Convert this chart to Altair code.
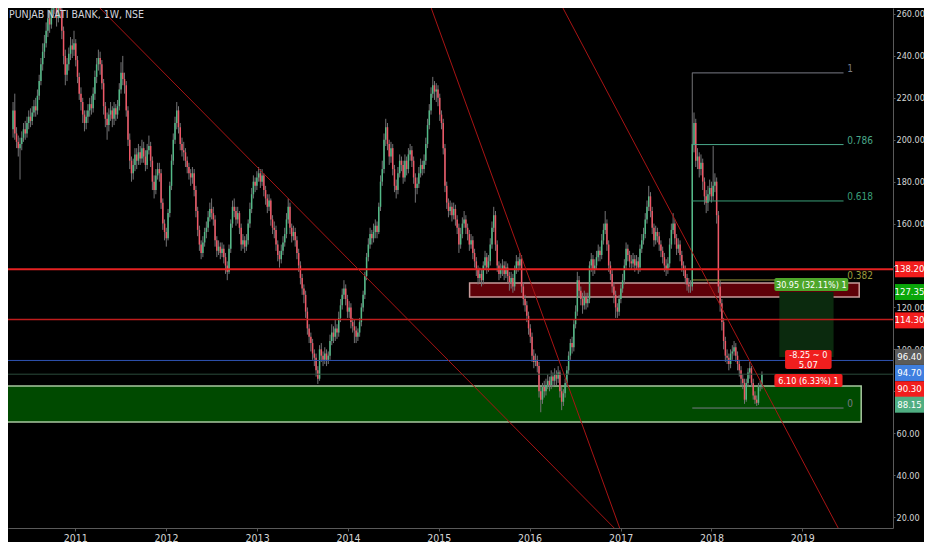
import altair as alt
import pandas as pd

TITLE = "PUNJAB NATI BANK, 1W, NSE"
FONT = "Liberation Sans Narrow, DejaVu Sans Condensed, Liberation Sans, sans-serif"

# ---------------- weekly candles ----------------
FIRST_WEEK = "2010-04-26"
FIRST_OPEN = 205
closes = [
    214, 203, 199, 196, 198, 201, 205, 203, 208, 211,
    209, 213, 216, 214, 221, 228, 236, 242, 246, 252,
    258, 255, 262, 266, 264, 258, 268, 262, 252, 240,
    231, 236, 241, 245, 243, 246, 238, 230, 222, 218,
    212, 208, 211, 214, 217, 215, 222, 230, 236, 239,
    236, 227, 216, 210, 207, 212, 214, 210, 215, 212,
    216, 224, 232, 229, 226, 214, 200, 190, 184, 188,
    193, 190, 194, 191, 196, 192, 188, 195, 197, 190,
    180, 176, 183, 186, 184, 170, 160, 156, 153, 165,
    178, 190, 200, 208, 214, 206, 198, 195, 194, 190,
    187, 184, 182, 184, 176, 166, 157, 150, 146, 151,
    156, 158, 163, 167, 165, 162, 152, 147, 149, 146,
    148, 144, 140, 137, 148, 160, 168, 166, 162, 165,
    158, 150, 152, 149, 152, 160, 167, 174, 180, 178,
    182, 184, 180, 183, 176, 172, 168, 171, 162, 158,
    157, 150, 145, 143, 147, 151, 155, 162, 168, 158,
    154, 156, 152, 146, 140, 134, 129, 126, 118, 110,
    106, 103, 98, 96, 90, 86, 100, 97, 95, 98,
    95, 97, 104, 108, 106, 110, 108, 115, 121, 126,
    129, 124, 118, 120, 113, 111, 109, 106, 108, 113,
    120, 126, 135, 144, 150, 155, 153, 156, 159, 156,
    168, 180, 186, 200, 206, 198, 192, 196, 186, 178,
    176, 184, 190, 188, 182, 190, 186, 193, 195, 190,
    182, 177, 179, 184, 188, 186, 190, 198, 207, 214,
    222, 226, 223, 224, 220, 212, 208, 196, 178, 170,
    166, 168, 164, 167, 162, 158, 150, 155, 160, 162,
    158, 155, 150, 152, 146, 142, 138, 134, 136, 133,
    140, 144, 139, 142, 150, 158, 164, 150, 140, 136,
    138, 140, 136, 139, 135, 132, 134, 130, 138, 142,
    140, 143, 130, 124, 121, 116, 110, 106, 97, 94,
    95, 92, 80, 76, 82, 80, 83, 85, 83, 87,
    85, 88, 86, 89, 80, 75, 79, 84, 90, 97,
    103, 101, 112, 118, 133, 128, 124, 121, 125, 122,
    124, 140, 143, 138, 140, 144, 147, 145, 152, 157,
    160, 150, 140, 136, 130, 126, 120, 118, 124, 129,
    133, 140, 148, 145, 142, 141, 143, 140, 142, 139,
    148, 152, 155, 162, 168, 173, 166, 158, 152, 156,
    154, 150, 147, 144, 140, 138, 141, 150, 157, 160,
    153, 148, 150, 145, 140, 138, 134, 131, 130, 130,
    198, 208, 190, 192, 186, 189, 180, 173, 170, 174,
    177, 173, 178, 180, 164, 130, 122, 113, 104, 97,
    96, 93, 98, 99, 101, 97, 93, 90, 86, 84,
    76, 84, 89, 91, 84, 78, 76, 74.5, 82, 83, 88.15,
]
highs = [
    218, 222, 206, 202, 201, 204, 208, 209, 211, 214,
    215, 216, 219, 220, 224, 231, 239, 246, 250, 256,
    262, 261, 266, 270, 271, 266, 275, 272, 265, 254,
    243, 239, 244, 249, 248, 252, 248, 240, 232, 225,
    220, 214, 214, 217, 220, 221, 225, 233, 239, 243,
    242, 238, 229, 218, 213, 215, 218, 216, 218, 217,
    219, 227, 237, 240, 232, 228, 216, 203, 192, 191,
    196, 196, 198, 197, 200, 199, 195, 198, 202, 199,
    192, 183, 186, 189, 189, 186, 172, 162, 158, 167,
    180, 193, 203, 211, 218, 216, 208, 201, 199, 196,
    192, 189, 186, 187, 186, 178, 168, 159, 152, 154,
    158, 161, 166, 170, 172, 168, 164, 154, 152, 151,
    151, 150, 146, 142, 150, 162, 171, 172, 168, 168,
    166, 160, 155, 154, 155, 162, 170, 177, 183, 182,
    185, 187, 186, 186, 184, 178, 174, 174, 172, 164,
    161, 159, 152, 147, 150, 154, 158, 165, 172, 170,
    160, 159, 158, 154, 148, 142, 136, 131, 128, 120,
    112, 108, 105, 100, 98, 92, 102, 103, 99, 101,
    100, 99, 107, 112, 111, 114, 112, 118, 124, 129,
    133, 131, 126, 123, 122, 115, 114, 111, 110, 115,
    122, 128, 137, 146, 153, 158, 157, 160, 162, 161,
    170, 183, 190, 203, 210, 208, 200, 199, 198, 188,
    181, 187, 193, 192, 190, 193, 192, 196, 198, 197,
    192, 184, 182, 187, 191, 190, 193, 201, 210, 217,
    225, 230, 228, 227, 226, 222, 214, 210, 198, 180,
    172, 171, 170, 170, 169, 164, 160, 158, 163, 166,
    164, 160, 157, 155, 154, 148, 144, 140, 139, 138,
    142, 147, 146, 145, 153, 161, 168, 166, 152, 142,
    141, 143, 142, 142, 141, 137, 137, 136, 140, 145,
    144, 146, 145, 132, 126, 123, 118, 112, 108, 100,
    98, 97, 94, 82, 84, 85, 86, 88, 87, 90,
    89, 91, 90, 92, 90, 82, 81, 86, 92, 99,
    105, 106, 114, 121, 137, 135, 130, 127, 128, 127,
    127, 142, 146, 145, 143, 147, 150, 149, 155, 160,
    166, 162, 152, 142, 138, 132, 128, 122, 126, 131,
    136, 143, 151, 150, 147, 145, 146, 145, 145, 144,
    150, 155, 158, 165, 171, 178, 175, 168, 160, 159,
    158, 156, 152, 149, 146, 143, 144, 153, 160, 165,
    162, 155, 153, 152, 147, 142, 140, 136, 134, 133,
    232, 213, 210, 196, 194, 193, 191, 182, 176, 178,
    181, 180, 197, 184, 182, 166, 133, 124, 115, 106,
    100, 98, 100, 102, 104, 103, 99, 95, 92, 88,
    86, 86, 91, 94, 92, 86, 80, 78, 84, 85, 89.5,
]
lows = [
    201, 200, 196, 192, 181, 195, 199, 200, 201, 205,
    206, 207, 211, 211, 212, 219, 226, 233, 239, 244,
    249, 251, 253, 259, 260, 254, 256, 258, 248, 236,
    226, 228, 233, 238, 239, 240, 235, 227, 219, 214,
    208, 204, 205, 208, 211, 212, 213, 219, 227, 233,
    231, 224, 212, 206, 200, 204, 209, 206, 207, 209,
    210, 214, 222, 226, 222, 211, 197, 186, 180, 181,
    185, 186, 188, 188, 189, 189, 185, 186, 193, 187,
    176, 172, 174, 181, 180, 167, 157, 152, 149, 152,
    163, 176, 188, 198, 205, 203, 195, 192, 190, 187,
    184, 181, 178, 179, 173, 163, 154, 147, 143, 144,
    149, 153, 156, 161, 162, 159, 149, 144, 145, 143,
    144, 141, 136, 133, 136, 146, 158, 163, 159, 160,
    155, 147, 148, 146, 147, 150, 158, 165, 172, 175,
    176, 180, 177, 178, 173, 169, 165, 166, 159, 155,
    153, 147, 142, 139, 141, 145, 149, 153, 160, 155,
    151, 152, 149, 143, 137, 131, 126, 122, 115, 107,
    103, 99, 95, 92, 87, 83.5, 85, 94, 92, 93,
    92, 93, 95, 102, 103, 104, 105, 106, 113, 119,
    124, 121, 115, 115, 110, 108, 103, 103, 104, 106,
    111, 118, 124, 133, 142, 148, 150, 151, 153, 153,
    155, 166, 178, 184, 197, 195, 188, 189, 183, 175,
    172, 174, 182, 185, 179, 180, 183, 184, 190, 187,
    179, 170, 174, 177, 182, 183, 184, 188, 196, 205,
    212, 220, 219, 218, 216, 209, 205, 193, 175, 167,
    163, 164, 161, 162, 159, 155, 146, 148, 153, 158,
    155, 152, 147, 148, 143, 139, 135, 131, 132, 130,
    131, 138, 136, 137, 140, 148, 156, 147, 137, 133,
    134, 135, 133, 134, 132, 128, 129, 127, 128, 136,
    137, 138, 127, 121, 118, 113, 107, 103, 94, 91,
    92, 89, 77, 70, 74, 77, 78, 81, 80, 81,
    82, 83, 83, 84, 77, 71, 73, 77, 82, 88,
    95, 98, 99, 110, 116, 125, 121, 117, 119, 119,
    120, 122, 137, 135, 136, 138, 142, 142, 143, 150,
    155, 147, 137, 133, 127, 122, 115, 115, 116, 122,
    127, 131, 138, 142, 139, 138, 139, 137, 138, 136,
    137, 146, 150, 153, 160, 166, 163, 155, 149, 150,
    151, 147, 144, 141, 137, 135, 136, 139, 148, 155,
    150, 145, 146, 142, 137, 135, 131, 128, 127, 127,
    128, 194, 187, 186, 182, 183, 176, 169, 165, 166,
    171, 170, 171, 175, 160, 127, 118, 109, 100, 94,
    93, 90, 91, 95, 97, 94, 90, 87, 83, 81,
    74, 75, 82, 86, 82, 76, 74, 73, 73.5, 80, 81,
]

# ---------------- axis ticks ----------------
year_ticks = [2011, 2012, 2013, 2014, 2015, 2016, 2017, 2018, 2019]
price_ticks = [20, 40, 60, 80, 100, 120, 140, 160, 180, 200, 220, 240, 260]

# ---------------- drawings ----------------
level_prices = [138.20, 114.30, 94.70, 88.15]
level_colors = ["#e52222", "#c01c1c", "#2f52b0", "#2b4a3a"]
level_widths = [2, 1.5, 1, 1]

zone_start = ["2009-12-01", "2015-05-05"]
zone_end = ["2019-08-26", "2019-08-18"]
zone_top = [82.5, 131.7]
zone_bottom = [65.3, 125.0]
zone_fill = ["#004a00", "#5e0008"]
zone_stroke = ["#a8c8a0", "#c89a9a"]

trend_start_date = ["2011-03-09", "2014-11-20", "2016-04-27"]
trend_start_price = [266.7, 266.7, 266.7]
trend_end_date = ["2016-12-22", "2017-01-03", "2019-06-03"]
trend_end_price = [12.86, 12.86, 12.86]

fib_ratio = ["1", "0.786", "0.618", "0.382", "0"]
fib_price = [231.9, 197.7, 170.8, 133.1, 72.0]
fib_color = ["#787b86", "#4aa88a", "#3a9e78", "#9a9a3c", "#787b86"]
fib_start = "2017-10-16"
fib_end = "2019-06-16"
fib_label_at = "2019-07-01"

pos_start, pos_end = "2018-10-01", "2019-05-07"
pos_entry, pos_target, pos_stop = 96.40, 127.35, 90.30

box_text = ["30.95 (32.11%) 1", "-8.25 ~ 0", "6.10 (6.33%) 1"]
box_start = ["2018-09-11", "2018-10-24", "2018-09-11"]
box_end = ["2019-07-05", "2019-04-29", "2019-06-12"]
box_top = [134.0, 99.7, 88.2]
box_bottom = [127.8, 90.6, 82.0]
box_fill = ["#4ea62a", "#f01e1e", "#f01e1e"]
box_text_price = [130.9, 97.2, 85.1]
box_sub_text = "5.07"
box_sub_price = 92.4

tag_text = ["138.20", "127.35", "114.30", "96.40", "94.70", "90.30", "88.15"]
tag_price = [138.20, 127.35, 114.30, 96.40, 94.70, 90.30, 88.15]
tag_bg = ["#f21d1d", "#0aa70a", "#f21d1d", "#5b5b5b", "#3f7fe0", "#f21d1d", "#4fae82"]
tag_shift = [0, 0, 1, 0, 12.5, 19.5, 30.5]

UP, DOWN, WICK = "#53b987", "#ee5766", "#737375"

# ---------------- build ----------------
dates = pd.date_range(FIRST_WEEK, periods=len(closes), freq="7D")
opens = [FIRST_OPEN] + closes[:-1]
df = pd.DataFrame({"date": dates, "open": opens, "high": highs, "low": lows, "close": closes})
df["dir"] = ["up" if c >= o else "down" for o, c in zip(df["open"], df["close"])]

PW, PH = 885, 520
xscale = alt.Scale(domain=[alt.DateTime(year=2010, month=4, date=25, hours=19),
                           alt.DateTime(year=2019, month=12, date=11, hours=17)])
yscale = alt.Scale(domain=[14.77, 262.86], nice=False, zero=False)
xaxis = alt.Axis(title=None, values=[alt.DateTime(year=y, month=1, date=1) for y in year_ticks],
                 format="%Y", labelColor="#d6d6d6", labelFont=FONT, labelFontSize=10.5,
                 tickColor="#5a5a5a", tickSize=3, domainColor="#5a5a5a", labelPadding=2,
                 grid=False, labelFlush=False)
yaxis = alt.Axis(title=None, orient="right", values=price_ticks, format=".2f",
                 labelColor="#d6d6d6", labelFont=FONT, labelFontSize=9,
                 tickColor="#5a5a5a", tickSize=2, domainColor="#5a5a5a", labelPadding=1,
                 grid=False, labelFlush=False)


def X(f):
    return alt.X(f"{f}:T", scale=xscale, axis=xaxis)


def Y(f):
    return alt.Y(f"{f}:Q", scale=yscale, axis=yaxis)


color = alt.Color("dir:N", scale=alt.Scale(domain=["up", "down"], range=[UP, DOWN]), legend=None)

layers = []

zones = pd.DataFrame({"s": pd.to_datetime(zone_start), "e": pd.to_datetime(zone_end),
                      "t": zone_top, "b": zone_bottom, "fill": zone_fill, "stroke": zone_stroke})
layers.append(alt.Chart(zones).mark_rect(clip=True, strokeWidth=1.5).encode(
    x=X("s"), x2="e", y=Y("t"), y2="b",
    fill=alt.Fill("fill:N", scale=None), stroke=alt.Stroke("stroke:N", scale=None)))

pos = pd.DataFrame({"s": [pd.Timestamp(pos_start)], "e": [pd.Timestamp(pos_end)],
                    "t": [pos_target], "b": [pos_entry]})
layers.append(alt.Chart(pos).mark_rect(color="#0b2a0e").encode(x=X("s"), x2="e", y=Y("t"), y2="b"))

layers.append(alt.Chart(df).mark_rule(strokeWidth=1, clip=True, color=WICK).encode(
    x=X("date"), y=Y("low"), y2="high"))
layers.append(alt.Chart(df).mark_bar(width=1.5, clip=True).encode(
    x=X("date"), y=Y("open"), y2="close", color=color))

for p, c, w in zip(level_prices, level_colors, level_widths):
    layers.append(alt.Chart(pd.DataFrame({"p": [p]})).mark_rule(color=c, strokeWidth=w).encode(y=Y("p")))

trends = pd.DataFrame({"s": pd.to_datetime(trend_start_date), "sp": trend_start_price,
                       "e": pd.to_datetime(trend_end_date), "ep": trend_end_price})
layers.append(alt.Chart(trends).mark_rule(color="#a81414", strokeWidth=1, clip=True).encode(
    x=X("s"), x2="e", y=Y("sp"), y2="ep"))

fib = pd.DataFrame({"r": fib_ratio, "p": fib_price, "c": fib_color,
                    "s": pd.Timestamp(fib_start), "e": pd.Timestamp(fib_end),
                    "l": pd.Timestamp(fib_label_at)})
layers.append(alt.Chart(fib).mark_rule(strokeWidth=1).encode(
    x=X("s"), x2="e", y=Y("p"), color=alt.Color("c:N", scale=None)))
layers.append(alt.Chart(fib).mark_text(align="left", baseline="middle", dy=-4, fontSize=10, font=FONT).encode(
    x=X("l"), y=Y("p"), text="r:N", color=alt.Color("c:N", scale=None)))

boxes = pd.DataFrame({"txt": box_text, "s": pd.to_datetime(box_start), "e": pd.to_datetime(box_end),
                      "t": box_top, "b": box_bottom, "fill": box_fill, "tp": box_text_price})
boxes["m"] = boxes["s"] + (boxes["e"] - boxes["s"]) / 2
layers.append(alt.Chart(boxes).mark_rect(cornerRadius=2).encode(
    x=X("s"), x2="e", y=Y("t"), y2="b", fill=alt.Fill("fill:N", scale=None)))
layers.append(alt.Chart(boxes).mark_text(baseline="middle", align="center", fontSize=9, font=FONT,
                                         color="#ffffff").encode(x=X("m"), y=Y("tp"), text="txt:N"))
sub = pd.DataFrame({"m": [boxes["m"][1]], "p": [box_sub_price], "txt": [box_sub_text]})
layers.append(alt.Chart(sub).mark_text(baseline="middle", align="center", fontSize=9.5, font=FONT,
                                       color="#ffffff").encode(x=X("m"), y=Y("p"), text="txt:N"))

layers.append(alt.Chart(pd.DataFrame({"t": [TITLE]})).mark_text(
    align="left", baseline="middle", fontSize=10.5, font=FONT, color="#d1d4dc").encode(
    x=alt.value(1), y=alt.value(7), text="t:N"))

for t, p, bg, sh in zip(tag_text, tag_price, tag_bg, tag_shift):
    d = pd.DataFrame({"p": [p], "t": [t]})
    layers.append(alt.Chart(d).mark_rule(strokeWidth=16, color=bg, yOffset=sh, strokeCap="butt").encode(
        x=alt.value(PW + 2), x2=alt.value(PW + 31), y=Y("p")))
    layers.append(alt.Chart(d).mark_text(align="center", baseline="middle", fontSize=9.5, font=FONT,
                                         color="#ffffff", yOffset=sh).encode(
        x=alt.value(PW + 16.5), y=Y("p"), text="t:N"))

chart = alt.layer(*layers).properties(
    width=PW, height=PH,
    padding={"left": 0, "top": 0, "right": 31, "bottom": 14},
    autosize=alt.AutoSizeParams(type="none"),
).configure(background="#000000").configure_view(stroke=None)

chart.save("out.html", embed_options={"renderer": "svg", "actions": False})
